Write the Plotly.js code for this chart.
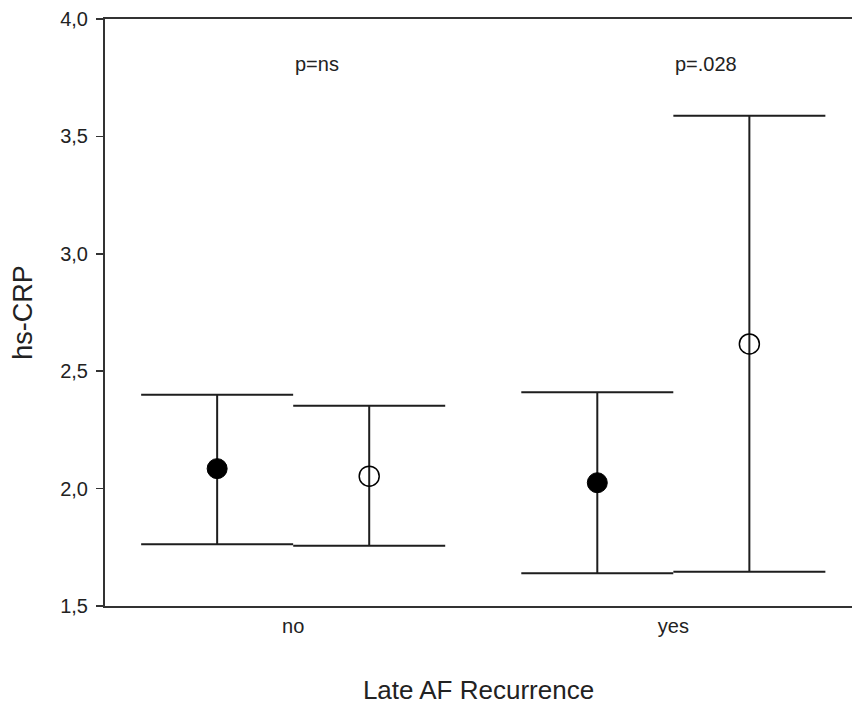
<!DOCTYPE html>
<html>
<head>
<meta charset="utf-8">
<script src="https://cdn.plot.ly/plotly-3.0.1.min.js"></script>
<style>html,body{margin:0;padding:0;background:#fff;}#chart{width:852px;height:705px;}</style>
</head>
<body>
<div id="chart"></div>
<script>
const categories = ["no", "yes"];
const filledMean = [2.085, 2.025];
const filledUpper = [2.400, 2.410];
const filledLower = [1.763, 1.639];
const openMean = [2.053, 2.616];
const openUpper = [2.353, 3.588];
const openLower = [1.757, 1.646];
const pLabels = ["p=ns", "p=.028"];
const pLabelY = 3.81;

const lineColor = "#1e1e1e";
function errs(mean, up, lo) {
  return {
    type: "data", symmetric: false,
    array: mean.map((m, i) => up[i] - m),
    arrayminus: mean.map((m, i) => m - lo[i]),
    color: lineColor, thickness: 2, width: 76
  };
}

const traces = [
  {
    type: "scatter", mode: "markers", x: categories, y: filledMean,
    offsetgroup: "a",
    marker: {symbol: "circle", size: 20, color: "#000", line: {color: "#000", width: 1}},
    error_y: errs(filledMean, filledUpper, filledLower),
    showlegend: false, hoverinfo: "skip"
  },
  {
    type: "scatter", mode: "markers", x: categories, y: openMean,
    offsetgroup: "b",
    marker: {symbol: "circle-open", size: 20, color: "#000", line: {color: "#000", width: 1.5}},
    error_y: errs(openMean, openUpper, openLower),
    showlegend: false, hoverinfo: "skip"
  }
];

const layout = {
  width: 852, height: 705,
  margin: {l: 105, r: 0, t: 19, b: 99},
  paper_bgcolor: "#fff", plot_bgcolor: "#fff",
  scattermode: "group", scattergap: 0.2,
  separators: ",.",
  font: {family: "Liberation Sans, Arial, sans-serif", color: "#222"},
  xaxis: {
    type: "category", range: [-0.495, 1.47],
    showgrid: false, zeroline: false,
    showline: true, linecolor: "#333", linewidth: 2, mirror: true,
    ticks: "", tickfont: {size: 20, color: "#222"}, ticklabelstandoff: 1,
    title: {text: "Late AF Recurrence", font: {size: 26, color: "#222"}, standoff: 48},
    automargin: false
  },
  yaxis: {
    range: [1.5, 4.0], tickvals: [1.5, 2.0, 2.5, 3.0, 3.5, 4.0], tickformat: ".1f",
    showgrid: false, zeroline: false,
    showline: true, linecolor: "#333", linewidth: 2,
    ticks: "outside", ticklen: 7, tickwidth: 1.5, tickcolor: "#333",
    tickfont: {size: 20, color: "#222"}, ticklabelstandoff: 4,
    title: {text: "hs-CRP", font: {size: 27, color: "#222"}, standoff: 20},
    automargin: false
  },
  annotations: categories.map((c, i) => ({
    x: c, y: pLabelY, xref: "x", yref: "y", text: pLabels[i],
    showarrow: false, xanchor: "left", yanchor: "middle",
    font: {size: 20, color: "#222"}
  }))
};

Plotly.newPlot("chart", traces, layout, {displayModeBar: false, staticPlot: true});
</script>
</body>
</html>
